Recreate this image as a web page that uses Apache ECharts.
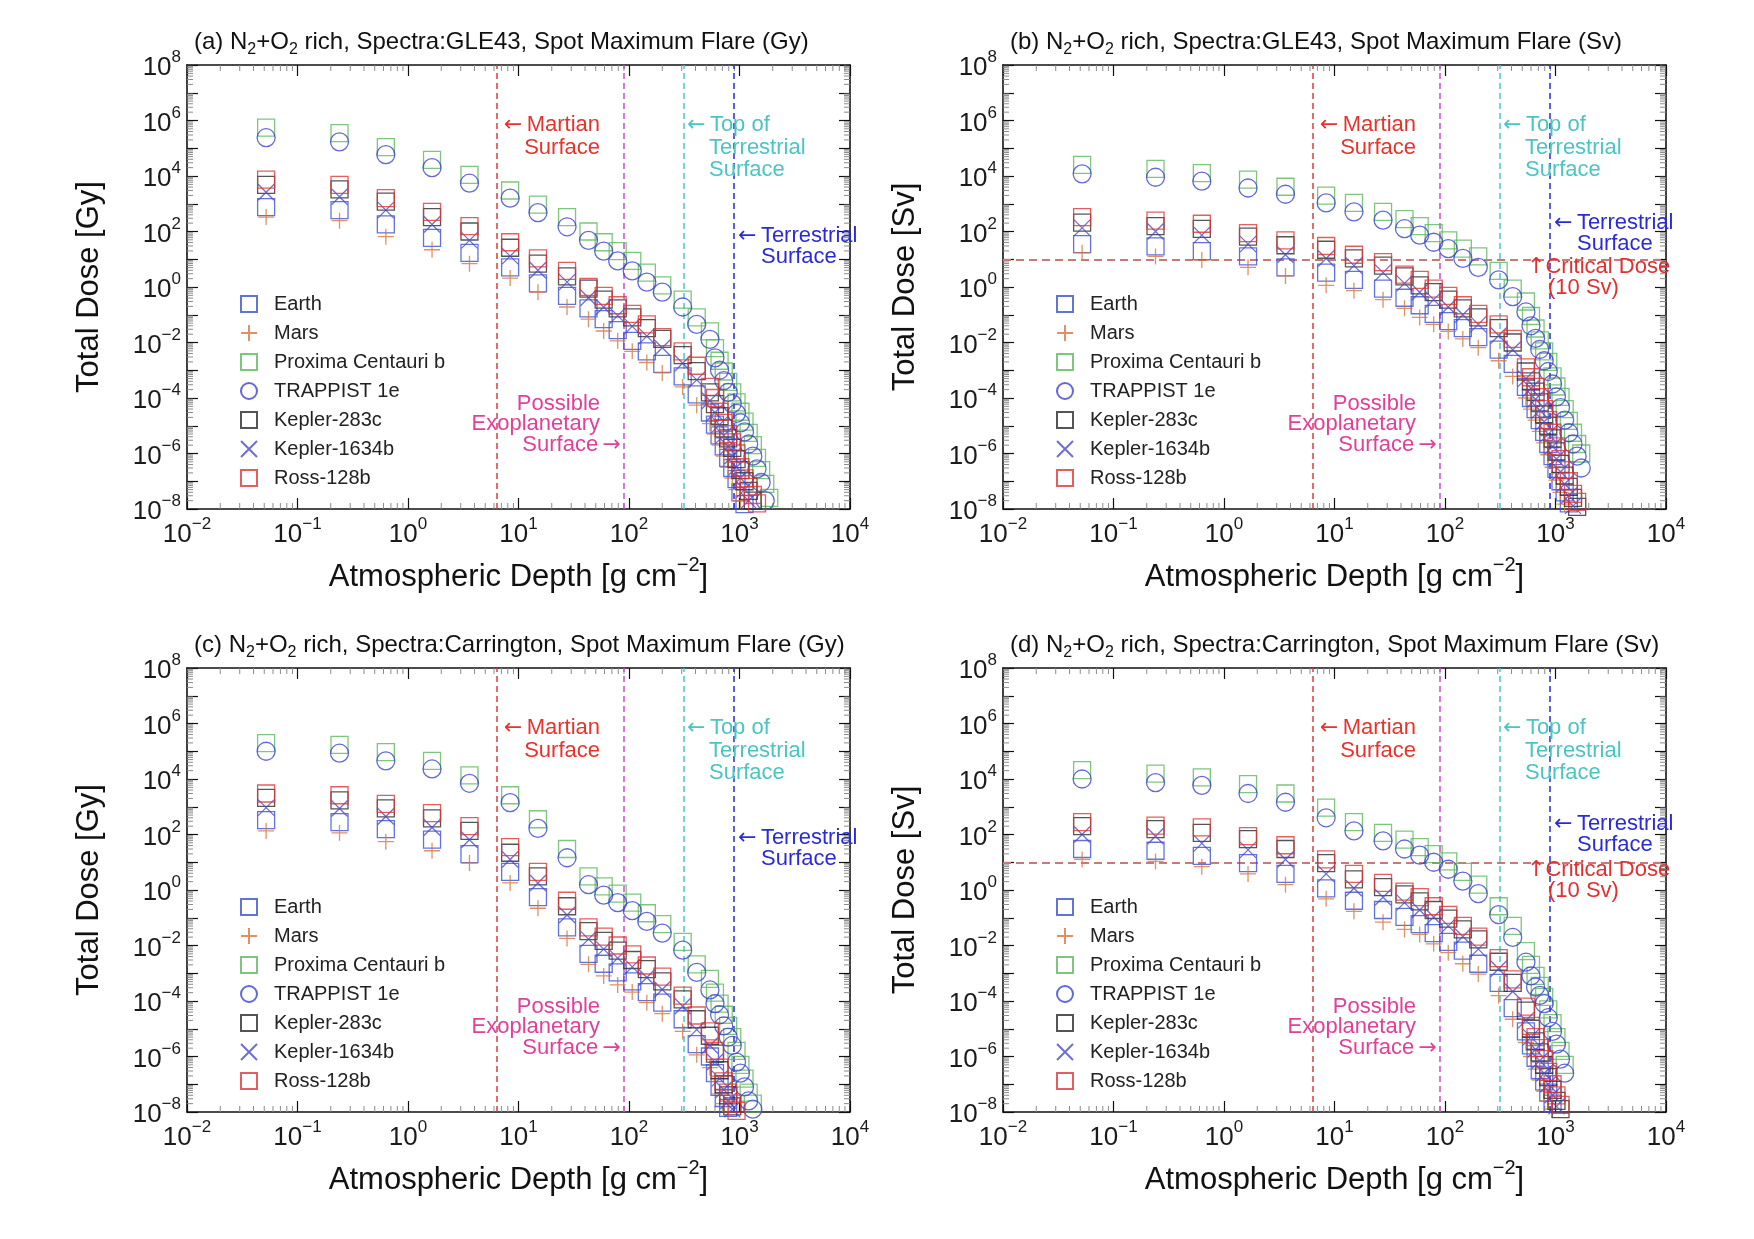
<!DOCTYPE html>
<html>
<head>
<meta charset="utf-8">
<title>Total dose vs atmospheric depth</title>
<script src="https://cdn.jsdelivr.net/npm/echarts@6.0.0/dist/echarts.min.js"></script>
<style>
  html, body { margin: 0; padding: 0; background: #fff; }
  #chart { width: 1754px; height: 1239px; }
</style>
</head>
<body>
<div id="chart"></div>
<script>
// atmospheric depth of the sampled layers [g cm^-2]
const depth = [0.052, 0.24, 0.63, 1.65, 3.6, 8.4, 15, 27.5, 43, 59, 79, 107, 145, 200, 306, 410,
  540, 600, 660, 720, 790, 860, 940, 1020, 1110, 1210, 1320, 1440, 1570, 1710, 1860];

const planets = ['Earth', 'Mars', 'Proxima Centauri b', 'TRAPPIST 1e', 'Kepler-283c', 'Kepler-1634b', 'Ross-128b'];

// (a) GLE43, Gy
const aEarth = [760, 590, 180, 59, 17, 5.1, 1.35, 0.48, 0.17, 0.07, 0.028, 0.0115, 0.0048, 0.0017, 6e-4, 1.35e-4,
  3e-5, 1.1e-5, 4.5e-6, 1.8e-6, 7e-7, 3e-7, 1.2e-7, 4e-8, 1.5e-8];
const aMars = [330, 245, 65, 22, 6.9, 2.1, 0.65, 0.19, 0.069, 0.026, 0.0115, 0.0048, 0.0019, 8e-4, 2.5e-4, 5.5e-5,
  1.2e-5, 5e-6, 2e-6, 8e-7, 3.2e-7, 1.3e-7, 5e-8, 2e-8];
const aProxima = [5.5e5, 3.5e5, 1.1e5, 3.8e4, 1.1e4, 3.0e3, 930, 330, 100, 41, 19.5, 8.7, 3.3, 1.15, 0.35, 0.08,
  2.5e-2, 6.3e-3, 2.2e-3, 9e-4, 3.8e-4, 1.6e-4, 7e-5, 3.2e-5, 1.4e-5, 5.5e-6, 2e-6, 7e-7, 2.5e-7, 8e-8, 2.5e-8];
const aTrappist = [2.4e5, 1.7e5, 5.9e4, 2e4, 5.5e3, 1.6e3, 480, 148, 48, 19.5, 8.7, 3.8, 1.5, 0.65, 0.19, 0.045,
  1.3e-2, 2.8e-3, 1e-3, 4.2e-4, 1.6e-4, 6.3e-5, 2.8e-5, 1.26e-5, 6e-6, 2.2e-6, 8e-7, 2.8e-7, 9e-8, 2e-8];
const aKepler283c = [4.8e3, 3.3e3, 1.2e3, 330, 100, 26, 6.9, 2.4, 0.87, 0.35, 0.17, 0.08, 0.033, 0.0135, 0.0035, 9.3e-4,
  1.6e-4, 6e-5, 2.2e-5, 8e-6, 3.5e-6, 1.6e-6, 6.3e-7, 2.5e-7, 1e-7, 4.5e-8, 2e-8];
const aKepler1634b = [2.6e3, 1.8e3, 590, 180, 48, 13, 4, 1.5, 0.41, 0.19, 0.093, 0.038, 0.017, 0.0065, 0.0018, 4.5e-4,
  8e-5, 3e-5, 1.1e-5, 4.5e-6, 1.8e-6, 8e-7, 3.2e-7, 1.3e-7, 5e-8, 2e-8];
const aRoss128b = [7.4e3, 4.8e3, 1.6e3, 510, 155, 41, 10.7, 3.8, 1.0, 0.48, 0.22, 0.107, 0.045, 0.0155, 0.0048, 0.00145,
  2.5e-4, 1e-4, 3.2e-5, 1.26e-5, 5e-6, 2.5e-6, 1e-6, 3.2e-7, 1.26e-7, 6.3e-8, 3.2e-8, 1.6e-8];

// (b) GLE43, Sv
const bEarth = [35, 29, 19.5, 12.6, 5.1, 3.3, 1.8, 0.87, 0.41, 0.22, 0.107, 0.059, 0.033, 0.0155, 0.0055, 0.0017,
  2.5e-4, 1e-4, 4e-5, 1.6e-5, 6e-6, 2.2e-6, 8e-7, 2.8e-7, 1e-7, 4e-8, 1.6e-8];
const bMars = [17, 12.6, 9.3, 5.1, 2.5, 1.15, 0.74, 0.35, 0.17, 0.08, 0.045, 0.025, 0.0135, 0.0065, 0.0022, 6e-4,
  1e-4, 4e-5, 1.6e-5, 6.3e-6, 2.4e-6, 9e-7, 3.2e-7, 1.1e-7, 4e-8, 1.5e-8];
const bProxima = [2.5e4, 1.8e4, 1.26e4, 7.4e3, 4.1e3, 1.95e3, 1.07e3, 510, 280, 155, 87, 48, 24, 12.6, 3.8, 0.87,
  0.3, 0.09, 0.032, 0.012, 4.8e-3, 2e-3, 6e-4, 2.6e-4, 1.1e-4, 4e-5, 1.5e-5, 5.6e-6, 2.2e-6, 1e-6];
const bTrappist = [1.2e4, 9e3, 6.5e3, 3.7e3, 2.2e3, 1.07e3, 510, 257, 126, 74, 41, 24, 10.7, 5.1, 1.8, 0.45,
  0.126, 0.04, 0.014, 5.6e-3, 2.2e-3, 9e-4, 3.2e-4, 1.1e-4, 4.5e-5, 1.6e-5, 5.6e-6, 2.2e-6, 8e-7, 3e-7];
const bKepler283c = [210, 155, 125, 65, 32, 22, 10.7, 5.9, 2.4, 1.15, 0.65, 0.35, 0.17, 0.08, 0.033, 0.01,
  9e-4, 4e-4, 1.7e-4, 7e-5, 2.6e-5, 1e-5, 3.5e-6, 1.2e-6, 4.2e-7, 1.6e-7, 6.3e-8, 2.5e-8, 1.2e-8];
const bKepler1634b = [135, 100, 74, 35, 14.5, 10.7, 5.9, 3.3, 1.35, 0.65, 0.35, 0.19, 0.1, 0.045, 0.018, 0.0055,
  5e-4, 2.2e-4, 9e-5, 3.6e-5, 1.4e-5, 5e-6, 1.8e-6, 6.3e-7, 2.2e-7, 8e-8, 3e-8, 1.3e-8];
const bRoss128b = [330, 245, 190, 87, 48, 30, 14.5, 7.9, 2.8, 1.8, 0.87, 0.48, 0.22, 0.107, 0.045, 0.0135,
  1.26e-3, 5.6e-4, 2.5e-4, 1.07e-4, 4e-5, 1.6e-5, 5.6e-6, 1.8e-6, 6.3e-7, 2.5e-7, 1e-7, 3.5e-8, 1.8e-8];

// (c) Carrington, Gy
const cEarth = [330, 280, 155, 65, 19.5, 4.5, 0.55, 0.045, 0.005, 0.0022, 0.00107, 5.1e-4, 2.1e-4, 8.7e-5, 2.2e-5, 2.8e-6,
  1e-6, 2.5e-7, 8e-8, 3.2e-8, 1.4e-8];
const cMars = [135, 115, 55, 26, 9.3, 1.8, 0.22, 0.018, 0.0021, 8e-4, 3.8e-4, 2.1e-4, 8.7e-5, 3.5e-5, 8e-6, 1.15e-6,
  4e-7, 1.26e-7, 4.5e-8, 2e-8];
const cProxima = [1.95e5, 1.7e5, 9.3e4, 4.5e4, 1.35e4, 2.6e3, 355, 30, 3.1, 1.35, 0.74, 0.35, 0.145, 0.059, 0.0135, 0.0021,
  6.3e-4, 2e-4, 8e-5, 3.2e-5, 1.26e-5, 5e-6, 1.6e-6, 5e-7, 1.6e-7, 5e-8, 2e-8];
const cTrappist = [1e5, 8.5e4, 4.5e4, 2.3e4, 7e3, 1.4e3, 166, 14.5, 1.55, 0.65, 0.35, 0.18, 0.074, 0.028, 0.0068, 0.00107,
  2.5e-4, 8e-5, 3.2e-5, 1.26e-5, 5e-6, 2.5e-6, 6.3e-7, 2.5e-7, 8e-8, 2.5e-8, 1.26e-8];
const cKepler283c = [2.1e3, 1.7e3, 870, 380, 135, 22, 3.1, 0.26, 0.033, 0.0148, 0.0065, 0.003, 0.0014, 5.1e-4, 1.15e-4, 2.2e-5,
  5.6e-6, 1.26e-6, 3.2e-7, 1e-7, 4e-8, 1.6e-8];
const cKepler1634b = [930, 870, 445, 180, 65, 12.6, 1.8, 0.126, 0.017, 0.0074, 0.0035, 0.0017, 7e-4, 2.6e-4, 6.5e-5, 9.3e-6,
  2.5e-6, 6.3e-7, 1.6e-7, 6.3e-8, 2.5e-8, 1.26e-8];
const cRoss128b = [3e3, 2.6e3, 1.26e3, 590, 200, 35, 4.5, 0.41, 0.045, 0.021, 0.01, 0.0048, 0.0019, 7.6e-4, 1.55e-4, 3e-5,
  8e-6, 1.6e-6, 4e-7, 1.26e-7, 5e-8, 2e-8, 1.1e-8];

// (d) Carrington, Sv
const dEarth = [30, 26, 17, 9.3, 3.8, 1.15, 0.41, 0.19, 0.107, 0.059, 0.028, 0.0135, 0.0065, 0.0022, 4.5e-4, 5.5e-5,
  8e-6, 2.5e-6, 9e-7, 3.2e-7, 1.26e-7, 5e-8, 2e-8];
const dMars = [12.6, 10.7, 6.9, 3.8, 1.55, 0.48, 0.17, 0.069, 0.038, 0.025, 0.0115, 0.0055, 0.0022, 9.3e-4, 1.55e-4, 2.2e-5,
  3.2e-6, 1e-6, 3.5e-7, 1.4e-7, 5.6e-8, 2.5e-8, 1.26e-8];
const dProxima = [2.1e4, 1.55e4, 1.15e4, 6.5e3, 3e3, 930, 280, 115, 65, 35, 19.5, 10.7, 4.5, 1.55, 0.26, 0.051,
  6.3e-3, 2e-3, 8e-4, 3.5e-4, 1.4e-4, 5e-5, 1.6e-5, 5e-6, 1.6e-6, 5e-7];
const dTrappist = [1e4, 7.4e3, 5.9e3, 3e3, 1.45e3, 400, 135, 59, 30, 18, 10, 5.6, 2.1, 0.74, 0.13, 0.0195,
  2.5e-3, 8e-4, 3.2e-4, 1.6e-4, 8e-5, 2.5e-5, 8e-6, 2.8e-6, 8e-7, 2.5e-7];
const dKepler283c = [200, 155, 115, 68, 30, 9.3, 2.4, 1.26, 0.69, 0.39, 0.19, 0.093, 0.038, 0.0166, 0.0026, 4.5e-4,
  4.5e-5, 1e-5, 3.5e-6, 1.4e-6, 5e-7, 1.8e-7, 6.3e-8, 2.5e-8, 1.26e-8];
const dKepler1634b = [100, 87, 48, 28, 12.6, 3.8, 1.15, 0.55, 0.35, 0.19, 0.107, 0.051, 0.021, 0.0074, 0.00145, 2.2e-4,
  2e-5, 5e-6, 1.8e-6, 7e-7, 2.5e-7, 1e-7, 4e-8, 1.6e-8];
const dRoss128b = [280, 210, 180, 87, 41, 12.6, 3.8, 1.8, 0.87, 0.55, 0.26, 0.126, 0.051, 0.021, 0.0035, 6e-4,
  6.3e-5, 1.26e-5, 5e-6, 2e-6, 8e-7, 2.8e-7, 1e-7, 4e-8, 1.8e-8];

// reference depths drawn as dashed verticals, and the critical dose line
const surfaceDepths = [6.3, 89, 310, 880];
const surfaceColors = ['#dd3c3c', '#c94cc9', '#4cc6c6', '#2a2ad6'];
const criticalDose = 10;

// axis decades and minor tick mantissas
const xDecades = [-2, -1, 0, 1, 2, 3];
const yDecades = [-8, -7, -6, -5, -4, -3, -2, -1, 0, 1, 2, 3, 4, 5, 6, 7];
const minorSteps = [2, 3, 4, 5, 6, 7, 8, 9];

const FONT = '"Liberation Sans", Arial, Helvetica, sans-serif';
const ARROW_FONT = '"DejaVu Sans", sans-serif';
const symbols = ['rect', 'path://M8,0V16M0,8H16', 'rect', 'circle', 'rect', 'path://M0,0L16,16M16,0L0,16', 'rect'];
const colors = ['#3b4fd4', '#d8743a', '#5cb85c', '#3a45cc', '#2b2b2b', '#4a4ac6', '#e03434'];
const sizes = [17, 16, 17, 18, 17, 16, 17];

const gridLeft = [187, 1003];
const gridTop = [65, 668];
const gridW = 663, gridH = 444;

const panels = [
  {tag: '(a)', spectra: 'GLE43', unit: 'Gy', col: 0, row: 0, terrY: 171,
    sets: [aEarth, aMars, aProxima, aTrappist, aKepler283c, aKepler1634b, aRoss128b]},
  {tag: '(b)', spectra: 'GLE43', unit: 'Sv', col: 1, row: 0, terrY: 158,
    sets: [bEarth, bMars, bProxima, bTrappist, bKepler283c, bKepler1634b, bRoss128b]},
  {tag: '(c)', spectra: 'Carrington', unit: 'Gy', col: 0, row: 1, terrY: 170,
    sets: [cEarth, cMars, cProxima, cTrappist, cKepler283c, cKepler1634b, cRoss128b]},
  {tag: '(d)', spectra: 'Carrington', unit: 'Sv', col: 1, row: 1, terrY: 156,
    sets: [dEarth, dMars, dProxima, dTrappist, dKepler283c, dKepler1634b, dRoss128b]}
];

const tickRich = {
  b: {fontSize: 26, fontFamily: FONT, color: '#1a1a1a', lineHeight: 32, verticalAlign: 'bottom'},
  s: {fontSize: 17, fontFamily: FONT, color: '#1a1a1a', lineHeight: 17, verticalAlign: 'top'}
};

function powLabel(v) {
  const e = Math.round(Math.log10(v));
  return '{b|10}{s|' + (e < 0 ? '\u2212' + (-e) : e) + '}';
}

function makeAxis(g, isX, position, labels) {
  return {
    type: 'log', logBase: 10, gridIndex: g, position: position,
    min: isX ? 0.01 : 1e-8, max: isX ? 1e4 : 1e8,
    interval: 1,
    splitNumber: isX ? 6 : 16,
    axisLine: {show: true, onZero: false, lineStyle: {color: '#111', width: 1.6}},
    axisTick: {show: true, inside: true, length: 11, lineStyle: {color: '#111', width: 1.2}},
    minorTick: {show: false},
    splitLine: {show: false},
    axisLabel: {
      show: labels, margin: isX ? 7 : 6, rich: tickRich, hideOverlap: false,
      formatter: function (v) {
        if (!isX && Math.abs(Math.round(Math.log10(v))) % 2 === 1) return '';
        return powLabel(v);
      }
    }
  };
}

function tickLine(x1, y1, x2, y2) {
  return {type: 'line', shape: {x1: x1, y1: y1, x2: x2, y2: y2}, style: {stroke: '#8a8a8a', lineWidth: 1}};
}

function minorTicks(g) {
  return {
    type: 'custom', xAxisIndex: 2 * g, yAxisIndex: 2 * g, silent: true, z: 1,
    data: [[1, 1]],
    renderItem: function (params, api) {
      const kids = [];
      xDecades.forEach(function (k) {
        minorSteps.forEach(function (m) {
          const v = m * Math.pow(10, k);
          const pb = api.coord([v, 1e-8]);
          const pt = api.coord([v, 1e8]);
          kids.push(tickLine(pb[0], pb[1], pb[0], pb[1] - 6));
          kids.push(tickLine(pt[0], pt[1], pt[0], pt[1] + 6));
        });
      });
      yDecades.forEach(function (k) {
        minorSteps.forEach(function (m) {
          const v = m * Math.pow(10, k);
          const pl = api.coord([0.01, v]);
          const pr = api.coord([1e4, v]);
          kids.push(tickLine(pl[0], pl[1], pl[0] + 6, pl[1]));
          kids.push(tickLine(pr[0], pr[1], pr[0] - 6, pr[1]));
        });
      });
      return {type: 'group', children: kids};
    }
  };
}

// annotation text; {a|..} tokens use a font with a longer arrow glyph, {g| } is a small gap
function note(x, y, str, color, align) {
  return {
    type: 'text', x: x, y: y, z: 100, silent: true,
    style: {
      text: str, fill: color, font: '22px ' + FONT, textAlign: align, align: align,
      textVerticalAlign: 'middle', verticalAlign: 'middle',
      rich: {
        t: {fontSize: 22, fontFamily: FONT, fill: color},
        a: {fontSize: 22, fontFamily: ARROW_FONT, fill: color},
        g: {fontSize: 16, fontFamily: FONT, fill: color}
      }
    }
  };
}

const grid = [], xAxis = [], yAxis = [], series = [], legend = [], graphic = [];

panels.forEach(function (p, g) {
  const ox = gridLeft[p.col], oy = gridTop[p.row];
  grid.push({left: ox, top: oy, width: gridW, height: gridH});

  const xb = makeAxis(g, true, 'bottom', true);
  xb.name = '{b|Atmospheric Depth [g cm}{s|\u22122}{b|]}';
  xb.nameLocation = 'middle';
  xb.nameGap = 46;
  xb.nameTextStyle = {rich: {
    b: {fontSize: 31, fontFamily: FONT, color: '#111', lineHeight: 38, verticalAlign: 'bottom'},
    s: {fontSize: 20, fontFamily: FONT, color: '#111', lineHeight: 20, verticalAlign: 'top'}
  }};
  xAxis.push(xb, makeAxis(g, true, 'top', false));

  const yl = makeAxis(g, false, 'left', true);
  yl.name = 'Total Dose [' + p.unit + ']';
  yl.nameLocation = 'middle';
  yl.nameGap = 82;
  yl.nameRotate = 90;
  yl.nameTextStyle = {fontSize: 31, fontFamily: FONT, color: '#111'};
  yAxis.push(yl, makeAxis(g, false, 'right', false));

  series.push(minorTicks(g));

  p.sets.forEach(function (vals, i) {
    const s = {
      type: 'scatter', name: planets[i], xAxisIndex: 2 * g, yAxisIndex: 2 * g,
      symbol: symbols[i], symbolSize: sizes[i],
      itemStyle: {color: 'rgba(0,0,0,0)', borderColor: colors[i], borderWidth: 1.3},
      emphasis: {disabled: true},
      data: vals.map(function (v, k) { return [depth[k], v]; }),
      z: 5 + i
    };
    if (i === 0) {
      const lines = surfaceDepths.map(function (d, k) {
        return {xAxis: d, lineStyle: {color: surfaceColors[k], type: [6, 4], width: 1.5}};
      });
      if (p.unit === 'Sv') {
        lines.push({yAxis: criticalDose, lineStyle: {color: '#c87a7a', type: [8, 5], width: 2}});
      }
      s.markLine = {silent: true, symbol: 'none', label: {show: false}, animation: false, data: lines};
    }
    series.push(s);
  });

  legend.push({
    left: ox + 53, top: oy + 229, orient: 'vertical', itemGap: 9, itemWidth: 16, itemHeight: 16,
    selectedMode: false, padding: 0, data: planets,
    textStyle: {fontSize: 20, fontFamily: FONT, color: '#222', padding: [0, 0, 0, 12]}
  });

  graphic.push({
    type: 'text', x: ox + 7, y: oy - 21, z: 100, silent: true,
    style: {
      text: '{t|' + p.tag + ' N}{u|2}{t|+O}{u|2}{t| rich, Spectra:' + p.spectra + ', Spot Maximum Flare (' + p.unit + ')}',
      rich: {
        t: {fontSize: 24, fontFamily: FONT, fill: '#111', lineHeight: 28, verticalAlign: 'top'},
        u: {fontSize: 16, fontFamily: FONT, fill: '#111', lineHeight: 16, verticalAlign: 'bottom'}
      },
      textVerticalAlign: 'middle', verticalAlign: 'middle'
    }
  });

  const AR = '{a|\u2190}{g| }', AL = '{g| }{a|\u2192}', AU = '{a|\u2191}';
  graphic.push(note(ox + 413, oy + 60, AR + '{t|Martian}', '#e8332c', 'right'));
  graphic.push(note(ox + 413, oy + 83, '{t|Surface}', '#e8332c', 'right'));
  graphic.push(note(ox + 500, oy + 60, AR + '{t|Top of}', '#4cc4c4', 'left'));
  graphic.push(note(ox + 522, oy + 83, '{t|Terrestrial}', '#4cc4c4', 'left'));
  graphic.push(note(ox + 522, oy + 105, '{t|Surface}', '#4cc4c4', 'left'));
  graphic.push(note(ox + 551, oy + p.terrY, AR + '{t|Terrestrial}', '#2b2bd6', 'left'));
  graphic.push(note(ox + 574, oy + p.terrY + 21, '{t|Surface}', '#2b2bd6', 'left'));
  graphic.push(note(ox + 413, oy + 339, '{t|Possible}', '#e0409a', 'right'));
  graphic.push(note(ox + 413, oy + 359, '{t|Exoplanetary}', '#e0409a', 'right'));
  graphic.push(note(ox + 434, oy + 380, '{t|Surface}' + AL, '#e0409a', 'right'));
  if (p.unit === 'Sv') {
    graphic.push(note(ox + 524, oy + 202, AU + '{t|Critical Dose}', '#e03030', 'left'));
    graphic.push(note(ox + 545, oy + 223, '{t|(10 Sv)}', '#e03030', 'left'));
  }
});

const chart = echarts.init(document.getElementById('chart'));
chart.setOption({
  backgroundColor: '#ffffff',
  animation: false,
  grid: grid,
  xAxis: xAxis,
  yAxis: yAxis,
  legend: legend,
  graphic: graphic,
  series: series
});
</script>
</body>
</html>
